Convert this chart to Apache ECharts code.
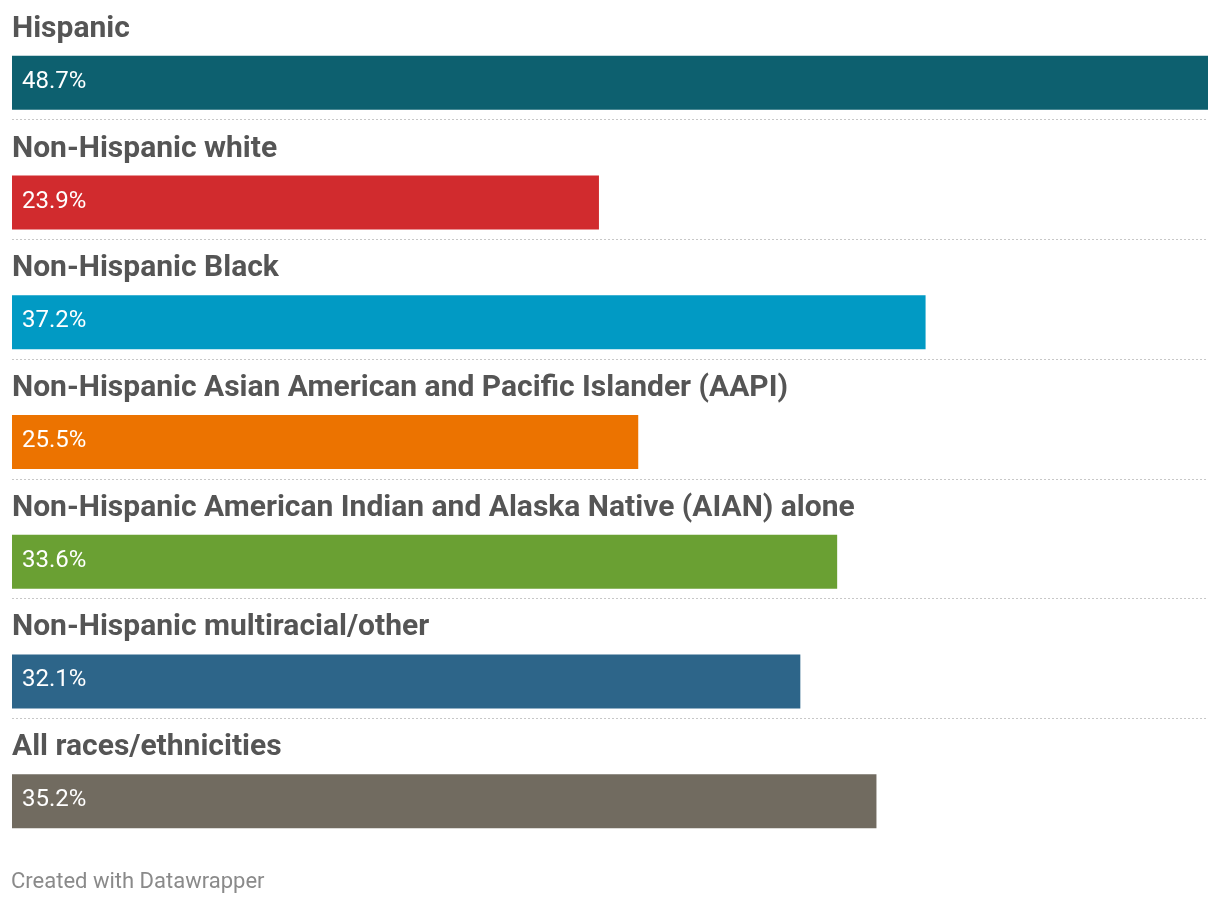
<!DOCTYPE html>
<html>
<head>
<meta charset="utf-8">
<script src="https://cdn.jsdelivr.net/npm/echarts@6/dist/echarts.min.js"></script>
<style>
html,body{margin:0;padding:0;background:#fff;}
#chart{width:1220px;height:904px;}
</style>
</head>
<body>
<div id="chart"></div>
<script>
const categories = [
  "Hispanic",
  "Non-Hispanic white",
  "Non-Hispanic Black",
  "Non-Hispanic Asian American and Pacific Islander (AAPI)",
  "Non-Hispanic American Indian and Alaska Native (AIAN) alone",
  "Non-Hispanic multiracial/other",
  "All races/ethnicities"
];
const values = [48.7, 23.9, 37.2, 25.5, 33.6, 32.1, 35.2];
const colors = ["#0d606f", "#d12b2e", "#019ac4", "#ec7300", "#6aa033", "#2d6589", "#716b60"];
const footer = "Created with Datawrapper";

const chart = echarts.init(document.getElementById('chart'), null, {renderer: 'canvas'});
chart.setOption({
  animation: false,
  backgroundColor: '#ffffff',
  title: {
    text: footer,
    left: 11, top: 871,
    padding: 0,
    textStyle: {fontFamily: 'Roboto', fontSize: 22, fontWeight: 'normal', color: '#8a8a8a'}
  },
  grid: {left: 12, right: 12, top: -2, height: 840, containLabel: false},
  xAxis: {
    type: 'value', min: 0, max: 'dataMax',
    show: false
  },
  yAxis: {
    type: 'category', data: categories, inverse: true,
    axisLine: {show: false}, axisTick: {show: false}, axisLabel: {show: false},
    splitLine: {show: true, showMinLine: false, showMaxLine: false,
      lineStyle: {color: '#c8c8c8', width: 1, type: [2, 2]}}
  },
  series: [
    {
      name: 'names', type: 'bar', barWidth: 46, barGap: '0%', silent: true,
      data: values,
      itemStyle: {color: 'rgba(0,0,0,0)'},
      label: {
        show: true, position: 'insideLeft', distance: 0, offset: [0, -3.5],
        formatter: p => p.name,
        fontFamily: 'Roboto', fontSize: 30, fontWeight: 'bold', color: '#555555'
      }
    },
    {
      name: 'values', type: 'bar', barWidth: 54, barGap: '0%',
      data: values.map((v, i) => ({value: v, itemStyle: {color: colors[i]}})),
      label: {
        show: true, position: 'insideLeft', distance: 10, offset: [0, -1],
        formatter: p => p.value.toFixed(1) + '%',
        fontFamily: 'Roboto', fontSize: 24, color: '#ffffff'
      }
    }
  ]
});
</script>
</body>
</html>
